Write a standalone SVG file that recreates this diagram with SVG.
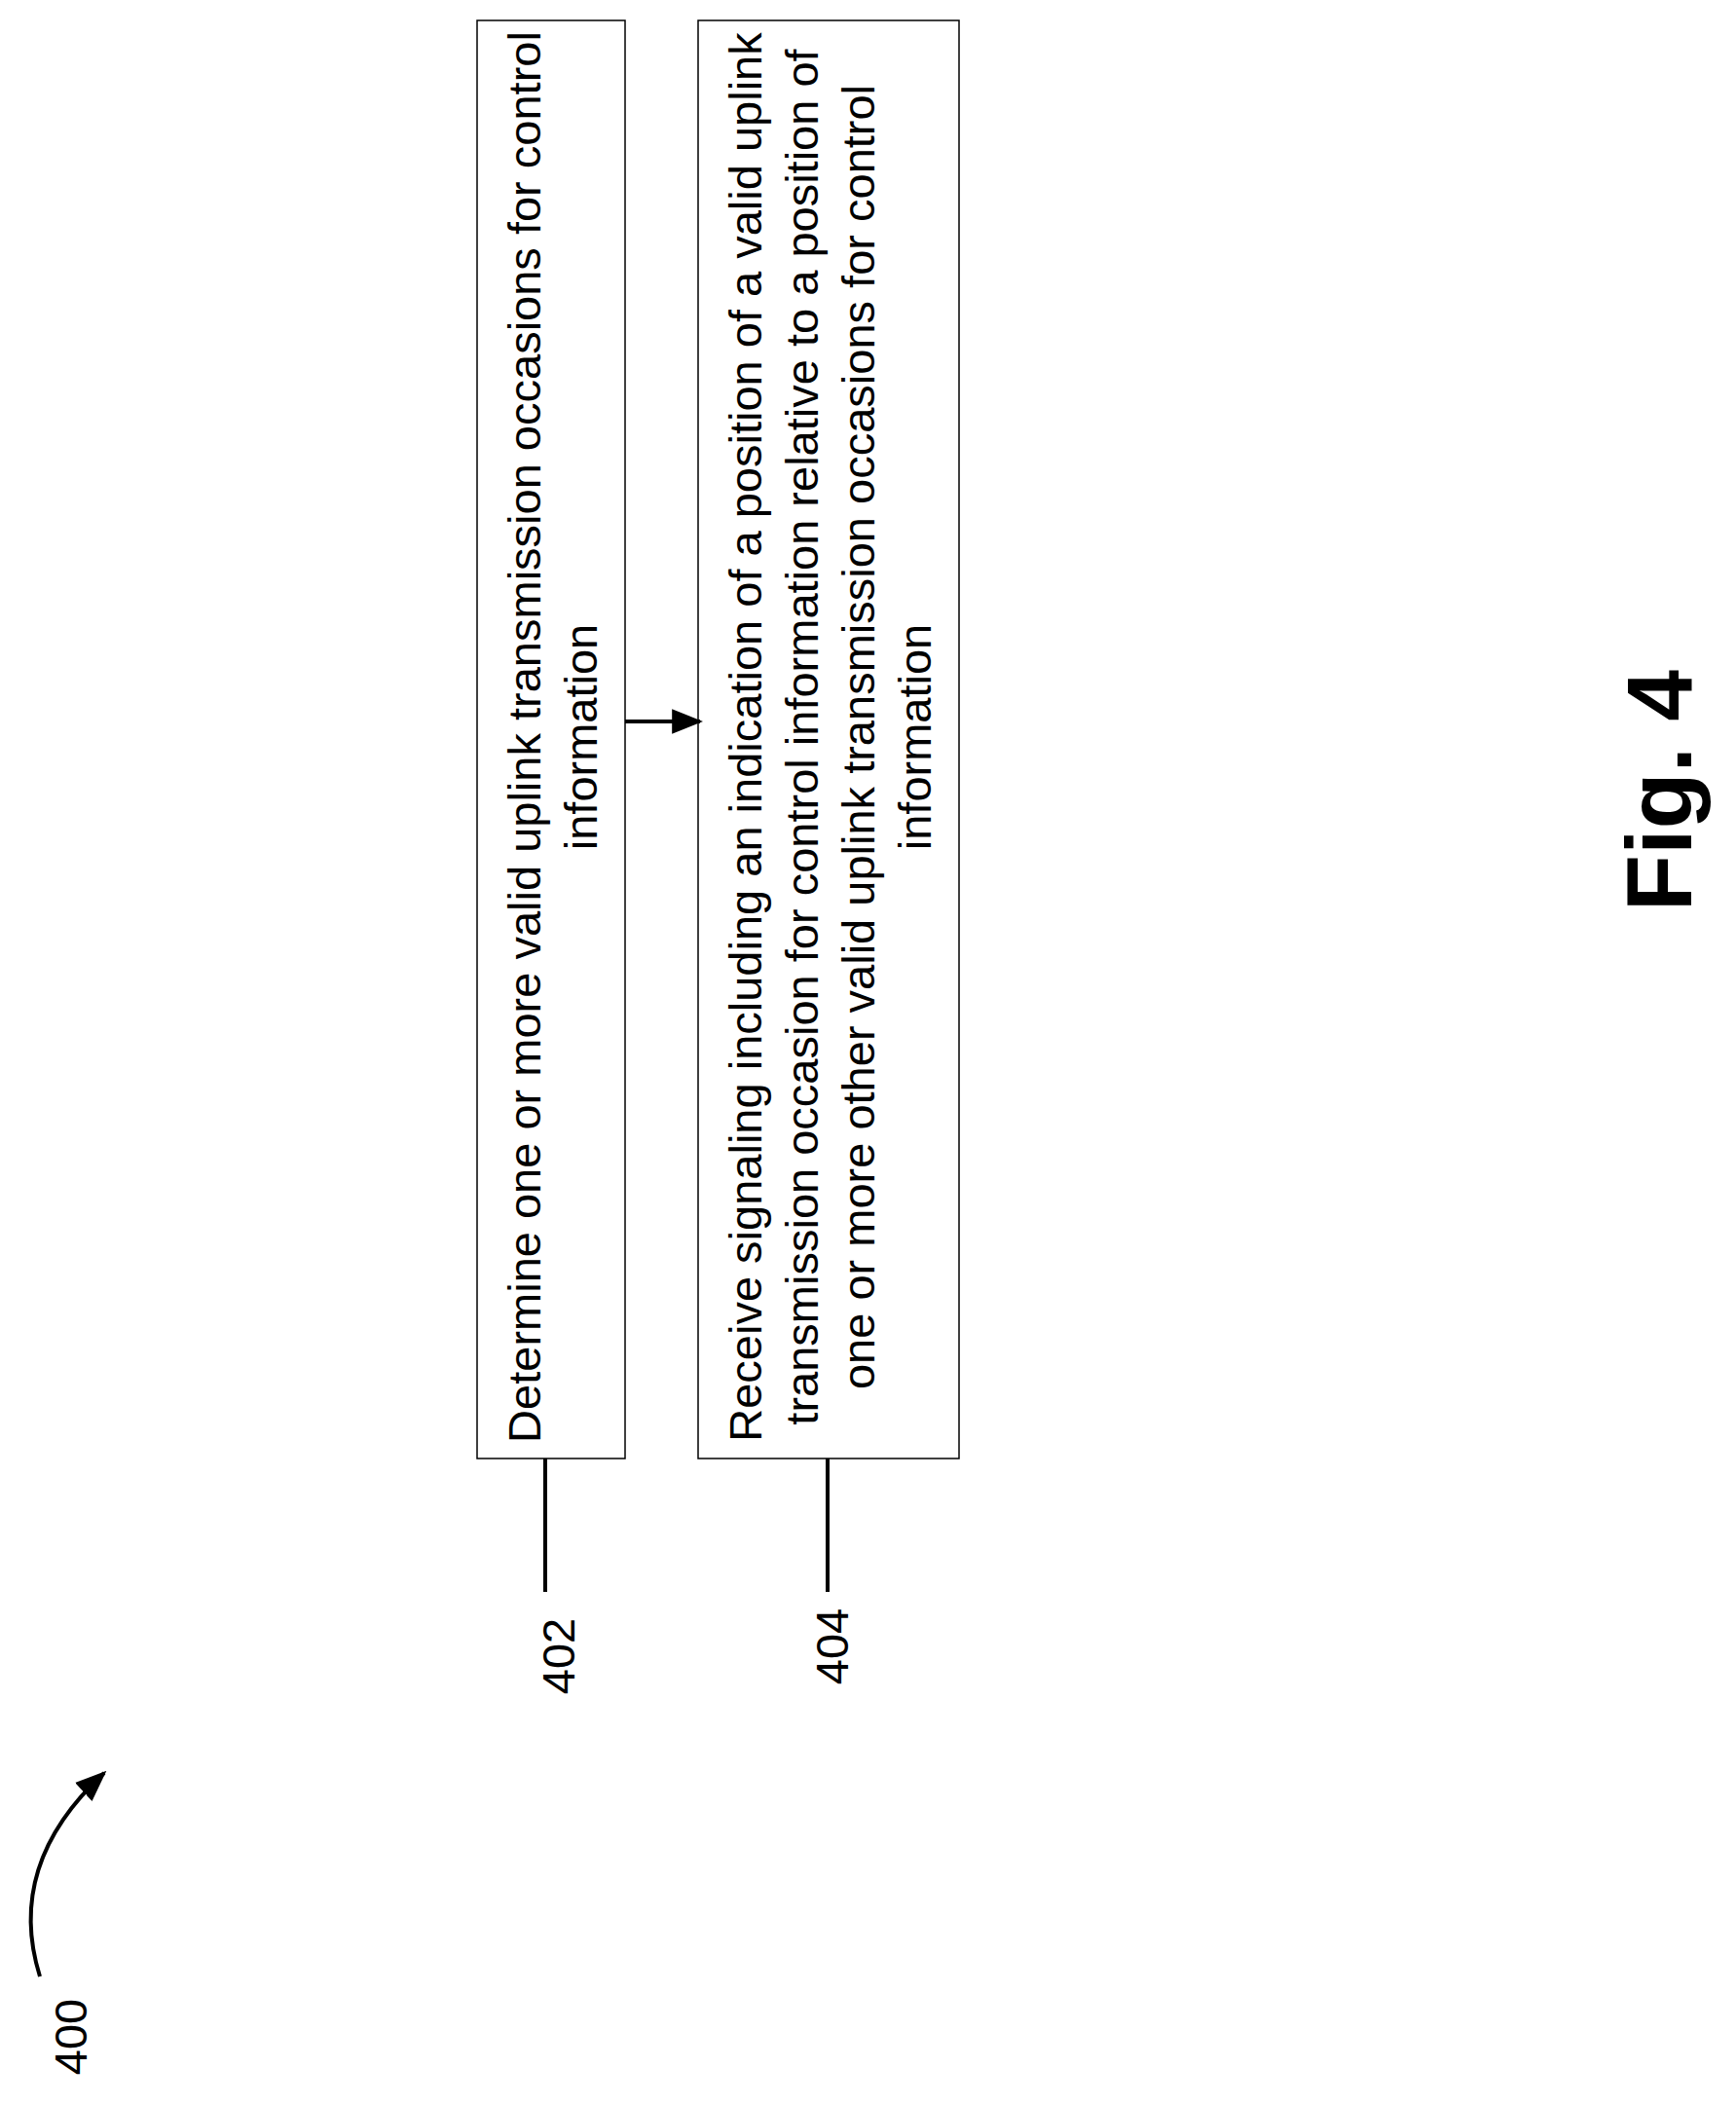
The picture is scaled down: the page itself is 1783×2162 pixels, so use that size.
<svg xmlns="http://www.w3.org/2000/svg" width="1783" height="2162" viewBox="0 0 1783 2162">
<style>
.t{font-family:"Liberation Sans",Arial,sans-serif;font-size:47px;fill:#000;text-anchor:middle}
.box{fill:#fff;stroke:#000;stroke-width:1.5}
.ln{stroke:#000;stroke-width:4;fill:none}
</style>
<defs>
<marker id="ah2" viewBox="0 0 10 8" refX="9" refY="4" markerWidth="32" markerHeight="26" orient="auto" markerUnits="userSpaceOnUse"><path d="M0,0L10,4L0,8z" fill="#000"/></marker>
</defs>
<rect width="1783" height="2162" fill="#fff"/>
<g id="n402">
<rect class="box" x="490" y="21" width="152" height="1477"/>
<text class="t" transform="translate(555,757) rotate(-90)">Determine one or more valid uplink transmission occasions for control</text>
<text class="t" transform="translate(613,757) rotate(-90)">information</text>
</g>
<g id="n404">
<rect class="box" x="717" y="21" width="268" height="1477"/>
<text class="t" transform="translate(782,757) rotate(-90)">Receive signaling including an indication of a position of a valid uplink</text>
<text class="t" transform="translate(840,757) rotate(-90)">transmission occasion for control information relative to a position of</text>
<text class="t" transform="translate(898,757) rotate(-90)">one or more other valid uplink transmission occasions for control</text>
<text class="t" transform="translate(956,757) rotate(-90)">information</text>
</g>
<g id="labels">
<text class="t" transform="translate(590,1701) rotate(-90)">402</text>
<text class="t" transform="translate(871,1691) rotate(-90)">404</text>
<text class="t" transform="translate(89,2092) rotate(-90)">400</text>
<text transform="translate(1737,812) rotate(-90)" style="font-family:'Liberation Sans',Arial,sans-serif;font-weight:bold;font-size:95px;text-anchor:middle">Fig. 4</text>
</g>
<g id="connectors">
<line class="ln" x1="642" y1="741" x2="719" y2="741" stroke-width="3" marker-end="url(#ah2)"/>
<line class="ln" x1="560" y1="1498" x2="560" y2="1635"/>
<line class="ln" x1="850" y1="1498" x2="850" y2="1635"/>
<path class="ln" d="M41,2030 Q5,1915 107,1821" marker-end="url(#ah2)"/>
</g>
</svg>
